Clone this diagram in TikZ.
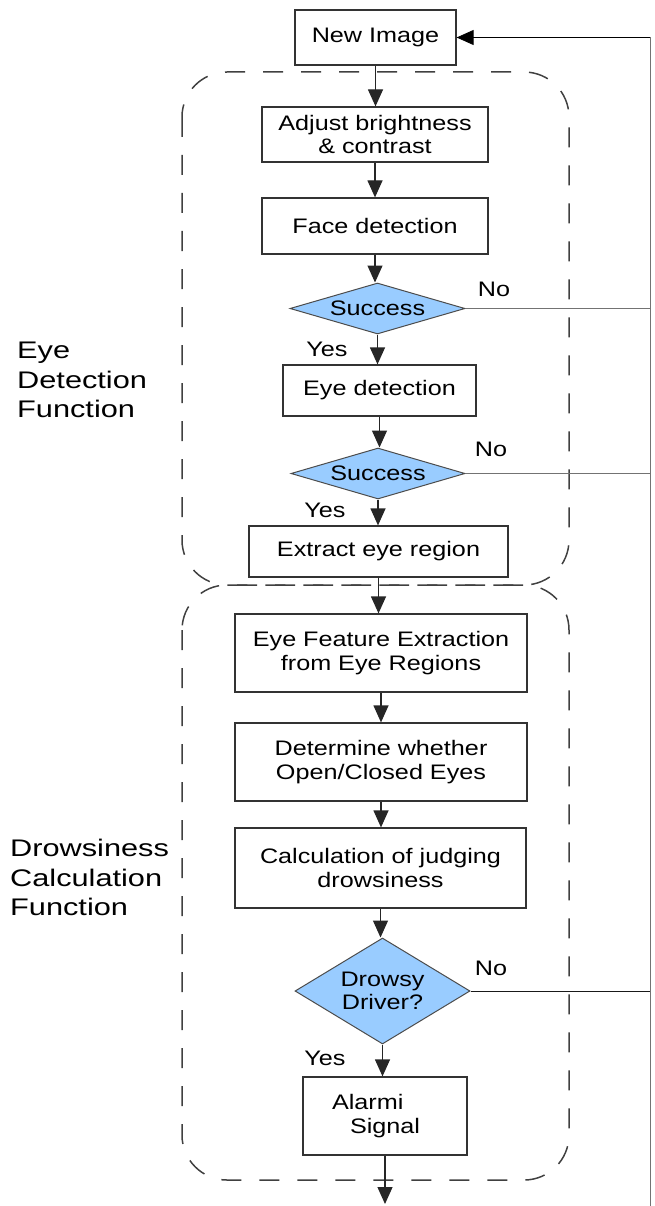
\documentclass[tikz,border=0pt]{standalone}
\usepackage{fontspec}
\setmainfont{Liberation Sans}
\newfontfamily\boxfont[FakeStretch=1.2]{Liberation Sans}
\newfontfamily\labfont[FakeStretch=1.28]{Liberation Sans}
\usetikzlibrary{shapes.geometric,arrows.meta}
\definecolor{dfill}{RGB}{153,204,255}
\begin{document}
\begin{tikzpicture}[x=1pt,y=-1pt,
  proc/.style={draw=black!80, line width=1.2pt, fill=white, font=\boxfont\fontsize{21}{23.5}\selectfont, align=center, inner sep=0pt},
  dec/.style={diamond, draw=black!70, line width=1pt, fill=dfill, font=\boxfont\fontsize{21}{23.5}\selectfont, align=center, inner sep=0pt},
  tip/.style={-{Triangle[length=17pt,width=15pt]}},
  flow/.style={tip, line width=1.2pt, black!85},
  back/.style={line width=0.8pt, black!55},
  region/.style={dash pattern=on 20pt off 18pt, line width=1.5pt, black!75, rounded corners=45pt},
  lbl/.style={font=\labfont\fontsize{24}{29.5}\selectfont, align=left, inner sep=0pt, anchor=north west},
  yn/.style={font=\boxfont\fontsize{21}{24}\selectfont, inner sep=0pt}]
\useasboundingbox (0,0) rectangle (654,1206);

% dashed function regions
\draw[region] (182,72) rectangle (569,585);
\draw[region] (182,585) rectangle (569,1180);

% left labels
\node[lbl] (eyelab) at (17,342) {Eye\\Detection\\Function};
\node[lbl] (drowlab) at (10,839) {Drowsiness\\Calculation\\Function};

% process boxes and decisions
\node[proc, minimum width=161pt, minimum height=55pt] (new) at (375.5,37.5) {New Image};
\node[proc, minimum width=226pt, minimum height=55pt] (adj) at (375,134.5) {Adjust brightness\\\& contrast};
\node[proc, minimum width=226pt, minimum height=56pt] (face) at (375,226) {Face detection};
\node[dec, aspect=3.43, minimum width=175pt, minimum height=51pt] (s1) at (377.5,308.5) {Success};
\node[proc, minimum width=193pt, minimum height=51pt] (eye) at (379.5,390.5) {Eye detection};
\node[dec, aspect=3.41, minimum width=174pt, minimum height=51pt] (s2) at (378,473.5) {Success};
\node[proc, minimum width=259pt, minimum height=51pt] (ext) at (378.5,551.5) {Extract eye region};
\node[proc, minimum width=292pt, minimum height=78pt] (feat) at (381,653) {Eye Feature Extraction\\from Eye Regions};
\node[proc, minimum width=292pt, minimum height=78pt] (det) at (381,762) {Determine whether\\Open/Closed Eyes};
\node[proc, minimum width=291pt, minimum height=80pt] (calc) at (380.5,868) {Calculation of judging\\drowsiness};
\node[dec, aspect=1.65, minimum width=175pt, minimum height=106pt] (dd) at (382.5,991) {Drowsy\\Driver?};
\node[proc, minimum height=78pt, text width=106pt, inner xsep=29pt, align=left] (alarm) at (385,1116) {Alarmi\\\hspace*{18pt}Signal};

% yes / no labels
\node[yn] (no1) at (494,289) {No};
\node[yn] (yes1) at (327,349) {Yes};
\node[yn] (no2) at (491,449) {No};
\node[yn] (yes2) at (325,510) {Yes};
\node[yn] (no3) at (491,968) {No};
\node[yn] (yes3) at (325,1058) {Yes};

% main flow
\draw[flow] (new.south) -- (new.south |- adj.north);
\draw[flow] (adj.south) -- (adj.south |- face.north);
\draw[flow] (face.south) -- (face.south |- s1.north);
\draw[flow] (s1.south) -- (s1.south |- eye.north);
\draw[flow] (eye.south) -- (eye.south |- s2.north);
\draw[flow] (s2.south) -- (s2.south |- ext.north);
\draw[flow] (ext.south) -- (ext.south |- feat.north);
\draw[flow] (feat.south) -- (feat.south |- det.north);
\draw[flow] (det.south) -- (det.south |- calc.north);
\draw[flow] (calc.south) -- (calc.south |- dd.north);
\draw[flow] (dd.south) -- (dd.south |- alarm.north);
\coordinate (out) at (385,1204);
\draw[flow] (alarm.south) -- (out);

% feedback loop
\coordinate (rtop) at (650,37.5);
\coordinate (rbot) at (650,1206);
\draw[back] (rbot) -- (rtop);
\draw[back, tip, black] (rtop) -- (new.east);
\draw[back] (s1.east) -- (s1.east -| rtop);
\draw[back] (s2.east) -- (s2.east -| rtop);
\draw[line width=1pt, black!90] (dd.east) -- (dd.east -| rtop);
\end{tikzpicture}
\end{document}
